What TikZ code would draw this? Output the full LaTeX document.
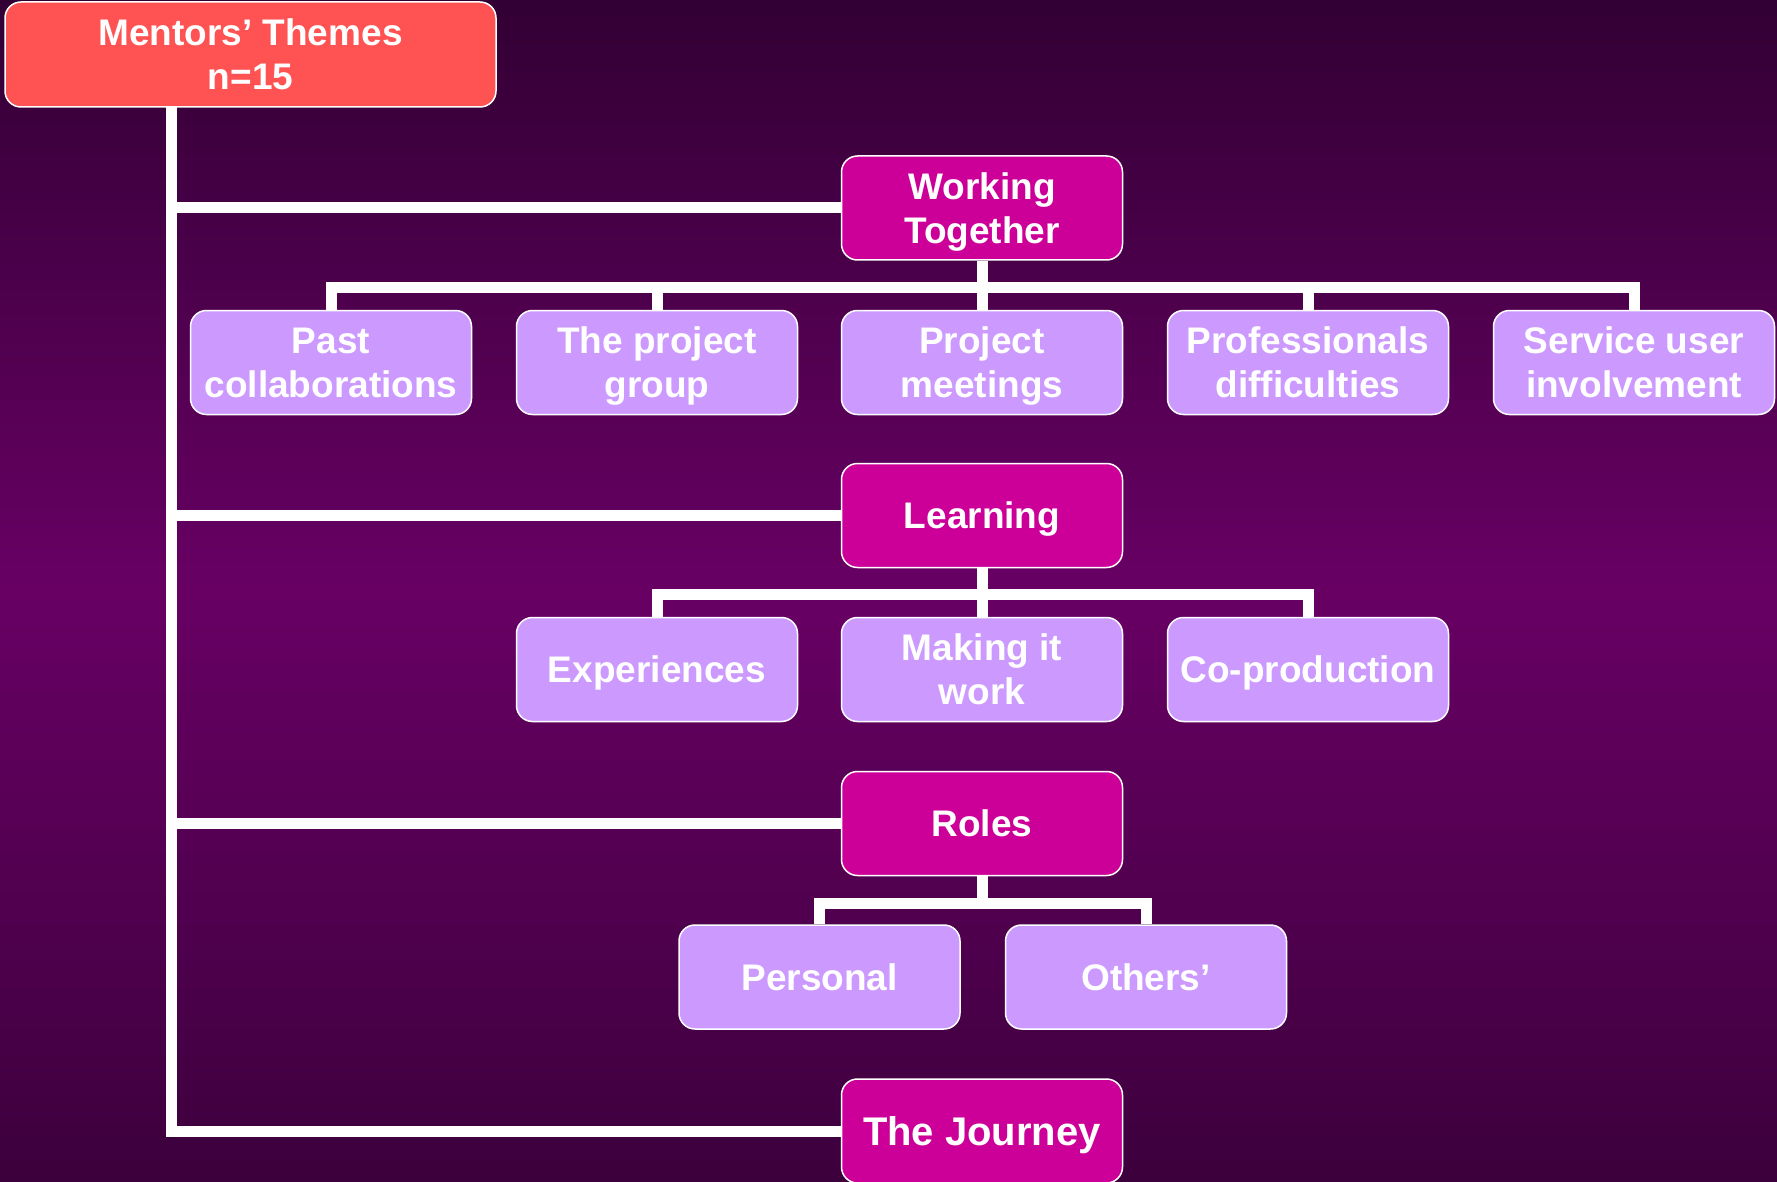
\documentclass[tikz,border=0pt]{standalone}
\usepackage{fontspec}
\setmainfont{Liberation Sans}
\definecolor{bgtop}{RGB}{50,0,52}
\definecolor{bgmid}{RGB}{104,0,100}
\definecolor{bgbot}{RGB}{60,0,60}
\definecolor{rootred}{RGB}{255,82,82}
\definecolor{thememag}{RGB}{204,0,153}
\definecolor{sublilac}{RGB}{204,153,255}
\tikzset{
  box/.style={draw=white, line width=1.5pt, rounded corners=16pt, text=white, align=center,
    inner sep=0pt, text depth=0pt, minimum width=281pt, minimum height=104pt,
    font=\fontsize{37}{44}\selectfont\bfseries},
  rootbox/.style={box, fill=rootred, minimum width=491pt, minimum height=105pt},
  themebox/.style={box, fill=thememag},
  subbox/.style={box, fill=sublilac},
  link/.style={draw=white, line width=11pt}
}
\begin{document}
\begin{tikzpicture}[x=1pt,y=-1pt]
\fill[top color=bgtop, bottom color=bgbot, middle color=bgmid] (0,0) rectangle (1777,1182);
\useasboundingbox (0,0) rectangle (1777,1182);
\node[rootbox] (root) at (250.5,54.5) {Mentors’ Themes\\n=15};
\node[themebox] (wt) at (982,208) {Working\\Together};
\node[themebox] (learn) at (982,515.5) {Learning};
\node[themebox] (roles) at (982,823.5) {Roles};
\node[themebox, font=\fontsize{40}{46}\selectfont\bfseries] (journey) at (982,1131) {The Journey};
\node[subbox] (past) at (331,362.5) {Past\\collaborations};
\node[subbox] (group) at (657,362.5) {The project\\group};
\node[subbox] (meet) at (982,362.5) {Project\\meetings};
\node[subbox] (prof) at (1308,362.5) {Professionals\\difficulties};
\node[subbox] (serv) at (1634,362.5) {Service user\\involvement};
\node[subbox] (exper) at (657,669.5) {Experiences};
\node[subbox] (making) at (982,669.5) {Making it\\work};
\node[subbox] (coprod) at (1308,669.5) {Co-production};
\node[subbox] (pers) at (819.5,977) {Personal};
\node[subbox] (others) at (1146,977) {Others’};
\coordinate (trunk) at (171,107);
\draw[link] (trunk) |- (journey.west);
\foreach \t in {wt,learn,roles} \draw[link] (trunk |- \t.west) -- (\t.west);
\foreach \c in {past,group,meet,prof,serv} \draw[link] (wt.south) -- ++(0,27) -| (\c.north);
\foreach \c in {exper,making,coprod} \draw[link] (learn.south) -- ++(0,26) -| (\c.north);
\foreach \c in {pers,others} \draw[link] (roles.south) -- ++(0,27) -| (\c.north);
\end{tikzpicture}
\end{document}
